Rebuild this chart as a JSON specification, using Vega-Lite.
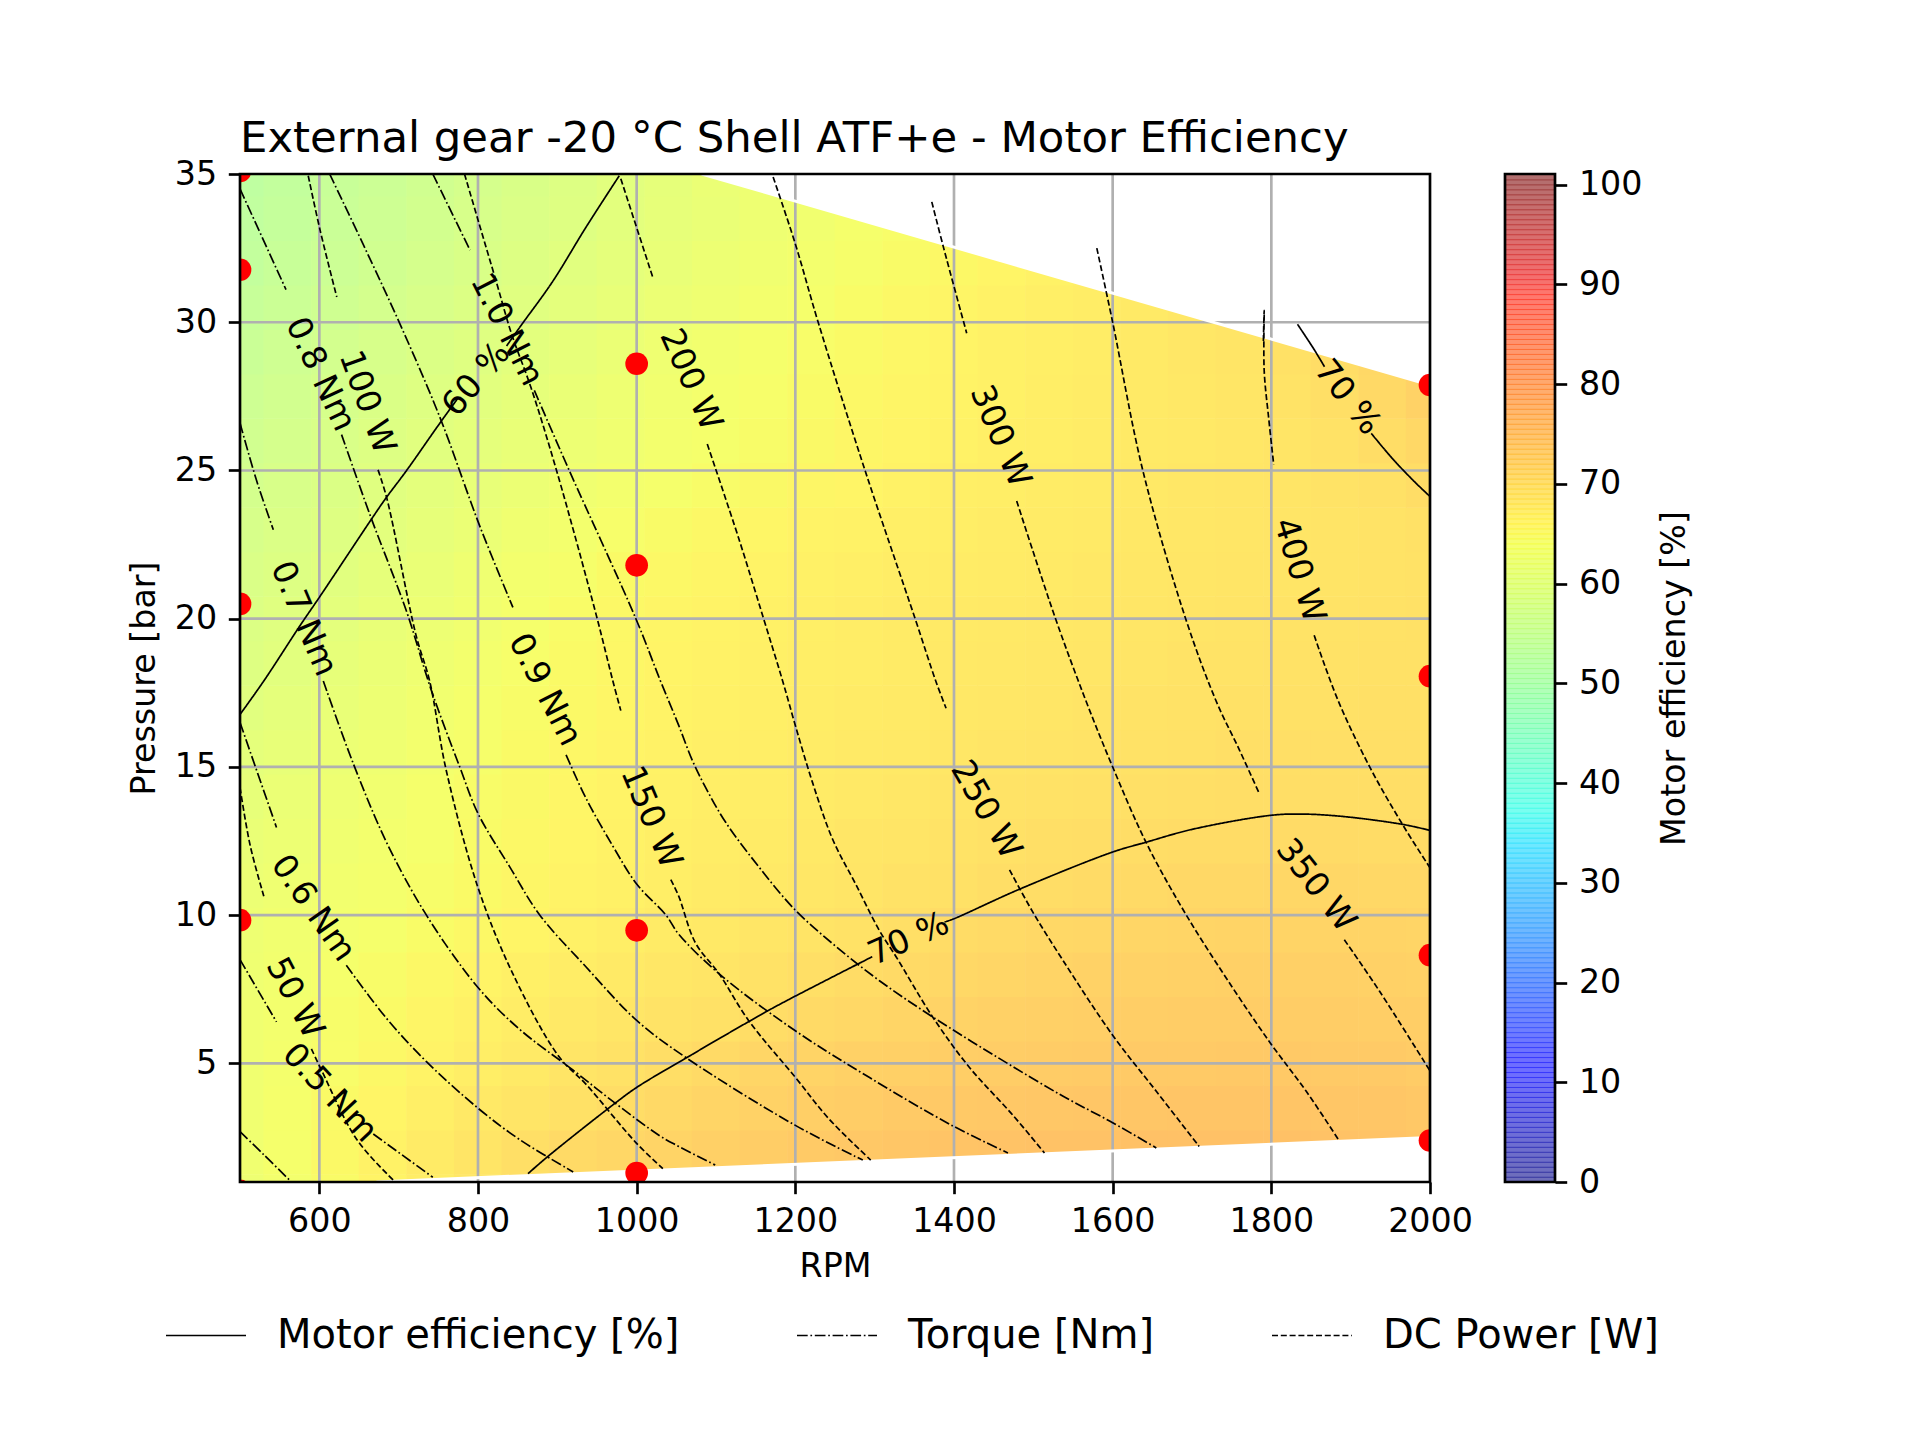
{"$schema":"https://vega.github.io/schema/vega-lite/v6.json","background":"white","padding":{"left":127,"top":116,"right":20,"bottom":20},"bounds":"flush","spacing":75,"config":{"font":"DejaVu Sans","view":{"stroke":null},"axis":{"grid":false,"domain":false,"labelFlush":false,"labelOverlap":false,"labelFontSize":33.3,"titleFontSize":33.3,"titleFontWeight":"normal","labelColor":"black","titleColor":"black","tickColor":"black","tickWidth":2.67,"tickSize":11.7,"labelPadding":11.7}},
"datasets":{
"heat":[
{"r":500,"p":0.5,"e":62.6},{"r":560,"p":0.5,"e":63.6},{"r":620,"p":0.5,"e":64.8},{"r":680,"p":0.5,"e":66},{"r":740,"p":0.5,"e":67.2},{"r":800,"p":0.5,"e":68.3},{"r":860,"p":0.5,"e":69.3},{"r":920,"p":0.5,"e":70.1},
{"r":500,"p":2,"e":63},{"r":560,"p":2,"e":64},{"r":620,"p":2,"e":65.2},{"r":680,"p":2,"e":66.4},{"r":740,"p":2,"e":67.6},{"r":800,"p":2,"e":68.7},{"r":860,"p":2,"e":69.7},{"r":920,"p":2,"e":70.5},{"r":980,"p":2,"e":71.1},{"r":1040,"p":2,"e":71.7},{"r":1100,"p":2,"e":72.3},{"r":1160,"p":2,"e":72.8},{"r":1220,"p":2,"e":73.3},{"r":1280,"p":2,"e":73.7},{"r":1340,"p":2,"e":74.1},{"r":1400,"p":2,"e":74.4},{"r":1460,"p":2,"e":74.6},{"r":1520,"p":2,"e":74.7},{"r":1580,"p":2,"e":74.8},{"r":1640,"p":2,"e":74.9},{"r":1700,"p":2,"e":75},{"r":1760,"p":2,"e":75},{"r":1820,"p":2,"e":74.9},{"r":1880,"p":2,"e":74.8},{"r":1940,"p":2,"e":74.6},{"r":2000,"p":2,"e":74.3},
{"r":500,"p":3.5,"e":63},{"r":560,"p":3.5,"e":63.9},{"r":620,"p":3.5,"e":64.9},{"r":680,"p":3.5,"e":65.9},{"r":740,"p":3.5,"e":66.9},{"r":800,"p":3.5,"e":67.9},{"r":860,"p":3.5,"e":68.6},{"r":920,"p":3.5,"e":69.4},{"r":980,"p":3.5,"e":70.1},{"r":1040,"p":3.5,"e":70.8},{"r":1100,"p":3.5,"e":71.5},{"r":1160,"p":3.5,"e":72},{"r":1220,"p":3.5,"e":72.5},{"r":1280,"p":3.5,"e":72.9},{"r":1340,"p":3.5,"e":73.3},{"r":1400,"p":3.5,"e":73.6},{"r":1460,"p":3.5,"e":73.8},{"r":1520,"p":3.5,"e":73.9},{"r":1580,"p":3.5,"e":74},{"r":1640,"p":3.5,"e":74.1},{"r":1700,"p":3.5,"e":74.2},{"r":1760,"p":3.5,"e":74.3},{"r":1820,"p":3.5,"e":74.2},{"r":1880,"p":3.5,"e":74.1},{"r":1940,"p":3.5,"e":74},{"r":2000,"p":3.5,"e":73.7},
{"r":500,"p":5,"e":63},{"r":560,"p":5,"e":63.8},{"r":620,"p":5,"e":64.5},{"r":680,"p":5,"e":65.4},{"r":740,"p":5,"e":66.2},{"r":800,"p":5,"e":67},{"r":860,"p":5,"e":67.8},{"r":920,"p":5,"e":68.6},{"r":980,"p":5,"e":69.2},{"r":1040,"p":5,"e":69.8},{"r":1100,"p":5,"e":70.6},{"r":1160,"p":5,"e":71.2},{"r":1220,"p":5,"e":71.7},{"r":1280,"p":5,"e":72.1},{"r":1340,"p":5,"e":72.4},{"r":1400,"p":5,"e":72.7},{"r":1460,"p":5,"e":72.9},{"r":1520,"p":5,"e":73.1},{"r":1580,"p":5,"e":73.2},{"r":1640,"p":5,"e":73.3},{"r":1700,"p":5,"e":73.4},{"r":1760,"p":5,"e":73.5},{"r":1820,"p":5,"e":73.5},{"r":1880,"p":5,"e":73.4},{"r":1940,"p":5,"e":73.3},{"r":2000,"p":5,"e":73.1},
{"r":500,"p":6.5,"e":63},{"r":560,"p":6.5,"e":63.6},{"r":620,"p":6.5,"e":64.4},{"r":680,"p":6.5,"e":65},{"r":740,"p":6.5,"e":65.8},{"r":800,"p":6.5,"e":66.6},{"r":860,"p":6.5,"e":67.3},{"r":920,"p":6.5,"e":67.9},{"r":980,"p":6.5,"e":68.4},{"r":1040,"p":6.5,"e":68.9},{"r":1100,"p":6.5,"e":69.4},{"r":1160,"p":6.5,"e":70.1},{"r":1220,"p":6.5,"e":70.6},{"r":1280,"p":6.5,"e":71},{"r":1340,"p":6.5,"e":71.4},{"r":1400,"p":6.5,"e":71.8},{"r":1460,"p":6.5,"e":72.1},{"r":1520,"p":6.5,"e":72.3},{"r":1580,"p":6.5,"e":72.5},{"r":1640,"p":6.5,"e":72.6},{"r":1700,"p":6.5,"e":72.8},{"r":1760,"p":6.5,"e":72.9},{"r":1820,"p":6.5,"e":72.9},{"r":1880,"p":6.5,"e":72.8},{"r":1940,"p":6.5,"e":72.7},{"r":2000,"p":6.5,"e":72.6},
{"r":500,"p":8,"e":62.8},{"r":560,"p":8,"e":63.4},{"r":620,"p":8,"e":64},{"r":680,"p":8,"e":64.6},{"r":740,"p":8,"e":65.3},{"r":800,"p":8,"e":66},{"r":860,"p":8,"e":66.7},{"r":920,"p":8,"e":67.3},{"r":980,"p":8,"e":67.8},{"r":1040,"p":8,"e":68.2},{"r":1100,"p":8,"e":68.7},{"r":1160,"p":8,"e":69.1},{"r":1220,"p":8,"e":69.6},{"r":1280,"p":8,"e":70.2},{"r":1340,"p":8,"e":70.6},{"r":1400,"p":8,"e":71},{"r":1460,"p":8,"e":71.3},{"r":1520,"p":8,"e":71.6},{"r":1580,"p":8,"e":71.9},{"r":1640,"p":8,"e":72},{"r":1700,"p":8,"e":72.2},{"r":1760,"p":8,"e":72.3},{"r":1820,"p":8,"e":72.3},{"r":1880,"p":8,"e":72.3},{"r":1940,"p":8,"e":72.2},{"r":2000,"p":8,"e":72},
{"r":500,"p":9.5,"e":62.5},{"r":560,"p":9.5,"e":63.1},{"r":620,"p":9.5,"e":63.6},{"r":680,"p":9.5,"e":64.1},{"r":740,"p":9.5,"e":64.7},{"r":800,"p":9.5,"e":65.3},{"r":860,"p":9.5,"e":65.9},{"r":920,"p":9.5,"e":66.5},{"r":980,"p":9.5,"e":67},{"r":1040,"p":9.5,"e":67.5},{"r":1100,"p":9.5,"e":68},{"r":1160,"p":9.5,"e":68.4},{"r":1220,"p":9.5,"e":68.8},{"r":1280,"p":9.5,"e":69.2},{"r":1340,"p":9.5,"e":69.7},{"r":1400,"p":9.5,"e":70.2},{"r":1460,"p":9.5,"e":70.5},{"r":1520,"p":9.5,"e":70.9},{"r":1580,"p":9.5,"e":71.1},{"r":1640,"p":9.5,"e":71.3},{"r":1700,"p":9.5,"e":71.5},{"r":1760,"p":9.5,"e":71.7},{"r":1820,"p":9.5,"e":71.7},{"r":1880,"p":9.5,"e":71.7},{"r":1940,"p":9.5,"e":71.6},{"r":2000,"p":9.5,"e":71.5},
{"r":500,"p":11,"e":62.2},{"r":560,"p":11,"e":62.8},{"r":620,"p":11,"e":63.3},{"r":680,"p":11,"e":63.8},{"r":740,"p":11,"e":64.4},{"r":800,"p":11,"e":65},{"r":860,"p":11,"e":65.6},{"r":920,"p":11,"e":66.1},{"r":980,"p":11,"e":66.6},{"r":1040,"p":11,"e":67},{"r":1100,"p":11,"e":67.5},{"r":1160,"p":11,"e":67.9},{"r":1220,"p":11,"e":68.3},{"r":1280,"p":11,"e":68.7},{"r":1340,"p":11,"e":69.1},{"r":1400,"p":11,"e":69.4},{"r":1460,"p":11,"e":69.8},{"r":1520,"p":11,"e":70.1},{"r":1580,"p":11,"e":70.4},{"r":1640,"p":11,"e":70.6},{"r":1700,"p":11,"e":70.9},{"r":1760,"p":11,"e":71},{"r":1820,"p":11,"e":71.1},{"r":1880,"p":11,"e":71.1},{"r":1940,"p":11,"e":71},{"r":2000,"p":11,"e":70.9},
{"r":500,"p":12.5,"e":61.7},{"r":560,"p":12.5,"e":62.3},{"r":620,"p":12.5,"e":62.9},{"r":680,"p":12.5,"e":63.5},{"r":740,"p":12.5,"e":64.1},{"r":800,"p":12.5,"e":64.8},{"r":860,"p":12.5,"e":65.4},{"r":920,"p":12.5,"e":65.9},{"r":980,"p":12.5,"e":66.4},{"r":1040,"p":12.5,"e":66.9},{"r":1100,"p":12.5,"e":67.3},{"r":1160,"p":12.5,"e":67.6},{"r":1220,"p":12.5,"e":68},{"r":1280,"p":12.5,"e":68.4},{"r":1340,"p":12.5,"e":68.7},{"r":1400,"p":12.5,"e":69},{"r":1460,"p":12.5,"e":69.3},{"r":1520,"p":12.5,"e":69.6},{"r":1580,"p":12.5,"e":69.8},{"r":1640,"p":12.5,"e":70},{"r":1700,"p":12.5,"e":70.2},{"r":1760,"p":12.5,"e":70.3},{"r":1820,"p":12.5,"e":70.4},{"r":1880,"p":12.5,"e":70.4},{"r":1940,"p":12.5,"e":70.3},{"r":2000,"p":12.5,"e":70.2},
{"r":500,"p":14,"e":61.2},{"r":560,"p":14,"e":61.9},{"r":620,"p":14,"e":62.6},{"r":680,"p":14,"e":63.2},{"r":740,"p":14,"e":63.9},{"r":800,"p":14,"e":64.6},{"r":860,"p":14,"e":65.1},{"r":920,"p":14,"e":65.7},{"r":980,"p":14,"e":66.2},{"r":1040,"p":14,"e":66.6},{"r":1100,"p":14,"e":67},{"r":1160,"p":14,"e":67.3},{"r":1220,"p":14,"e":67.6},{"r":1280,"p":14,"e":67.9},{"r":1340,"p":14,"e":68.3},{"r":1400,"p":14,"e":68.6},{"r":1460,"p":14,"e":68.9},{"r":1520,"p":14,"e":69.1},{"r":1580,"p":14,"e":69.3},{"r":1640,"p":14,"e":69.5},{"r":1700,"p":14,"e":69.7},{"r":1760,"p":14,"e":69.8},{"r":1820,"p":14,"e":69.9},{"r":1880,"p":14,"e":69.9},{"r":1940,"p":14,"e":69.9},{"r":2000,"p":14,"e":69.8},
{"r":500,"p":15.5,"e":60.7},{"r":560,"p":15.5,"e":61.4},{"r":620,"p":15.5,"e":62.1},{"r":680,"p":15.5,"e":62.8},{"r":740,"p":15.5,"e":63.5},{"r":800,"p":15.5,"e":64.2},{"r":860,"p":15.5,"e":64.9},{"r":920,"p":15.5,"e":65.5},{"r":980,"p":15.5,"e":66},{"r":1040,"p":15.5,"e":66.4},{"r":1100,"p":15.5,"e":66.8},{"r":1160,"p":15.5,"e":67.1},{"r":1220,"p":15.5,"e":67.4},{"r":1280,"p":15.5,"e":67.7},{"r":1340,"p":15.5,"e":68},{"r":1400,"p":15.5,"e":68.3},{"r":1460,"p":15.5,"e":68.6},{"r":1520,"p":15.5,"e":68.8},{"r":1580,"p":15.5,"e":69},{"r":1640,"p":15.5,"e":69.2},{"r":1700,"p":15.5,"e":69.4},{"r":1760,"p":15.5,"e":69.6},{"r":1820,"p":15.5,"e":69.7},{"r":1880,"p":15.5,"e":69.7},{"r":1940,"p":15.5,"e":69.7},{"r":2000,"p":15.5,"e":69.6},
{"r":500,"p":17,"e":60},{"r":560,"p":17,"e":60.8},{"r":620,"p":17,"e":61.6},{"r":680,"p":17,"e":62.4},{"r":740,"p":17,"e":63.2},{"r":800,"p":17,"e":63.9},{"r":860,"p":17,"e":64.6},{"r":920,"p":17,"e":65.2},{"r":980,"p":17,"e":65.7},{"r":1040,"p":17,"e":66.2},{"r":1100,"p":17,"e":66.6},{"r":1160,"p":17,"e":66.9},{"r":1220,"p":17,"e":67.2},{"r":1280,"p":17,"e":67.5},{"r":1340,"p":17,"e":67.8},{"r":1400,"p":17,"e":68.1},{"r":1460,"p":17,"e":68.3},{"r":1520,"p":17,"e":68.5},{"r":1580,"p":17,"e":68.8},{"r":1640,"p":17,"e":69},{"r":1700,"p":17,"e":69.2},{"r":1760,"p":17,"e":69.3},{"r":1820,"p":17,"e":69.4},{"r":1880,"p":17,"e":69.4},{"r":1940,"p":17,"e":69.5},{"r":2000,"p":17,"e":69.5},
{"r":500,"p":18.5,"e":59.4},{"r":560,"p":18.5,"e":60.2},{"r":620,"p":18.5,"e":61.1},{"r":680,"p":18.5,"e":62},{"r":740,"p":18.5,"e":62.8},{"r":800,"p":18.5,"e":63.5},{"r":860,"p":18.5,"e":64.3},{"r":920,"p":18.5,"e":65},{"r":980,"p":18.5,"e":65.5},{"r":1040,"p":18.5,"e":66},{"r":1100,"p":18.5,"e":66.4},{"r":1160,"p":18.5,"e":66.7},{"r":1220,"p":18.5,"e":67},{"r":1280,"p":18.5,"e":67.3},{"r":1340,"p":18.5,"e":67.6},{"r":1400,"p":18.5,"e":67.9},{"r":1460,"p":18.5,"e":68.1},{"r":1520,"p":18.5,"e":68.3},{"r":1580,"p":18.5,"e":68.5},{"r":1640,"p":18.5,"e":68.7},{"r":1700,"p":18.5,"e":68.9},{"r":1760,"p":18.5,"e":69},{"r":1820,"p":18.5,"e":69.1},{"r":1880,"p":18.5,"e":69.2},{"r":1940,"p":18.5,"e":69.3},{"r":2000,"p":18.5,"e":69.4},
{"r":500,"p":20,"e":58.9},{"r":560,"p":20,"e":59.7},{"r":620,"p":20,"e":60.6},{"r":680,"p":20,"e":61.5},{"r":740,"p":20,"e":62.4},{"r":800,"p":20,"e":63.2},{"r":860,"p":20,"e":64},{"r":920,"p":20,"e":64.7},{"r":980,"p":20,"e":65.3},{"r":1040,"p":20,"e":65.8},{"r":1100,"p":20,"e":66.2},{"r":1160,"p":20,"e":66.6},{"r":1220,"p":20,"e":66.9},{"r":1280,"p":20,"e":67.2},{"r":1340,"p":20,"e":67.5},{"r":1400,"p":20,"e":67.7},{"r":1460,"p":20,"e":67.9},{"r":1520,"p":20,"e":68.1},{"r":1580,"p":20,"e":68.3},{"r":1640,"p":20,"e":68.5},{"r":1700,"p":20,"e":68.7},{"r":1760,"p":20,"e":68.8},{"r":1820,"p":20,"e":68.9},{"r":1880,"p":20,"e":69},{"r":1940,"p":20,"e":69.2},{"r":2000,"p":20,"e":69.4},
{"r":500,"p":21.5,"e":58.4},{"r":560,"p":21.5,"e":59.2},{"r":620,"p":21.5,"e":60},{"r":680,"p":21.5,"e":60.9},{"r":740,"p":21.5,"e":61.8},{"r":800,"p":21.5,"e":62.7},{"r":860,"p":21.5,"e":63.5},{"r":920,"p":21.5,"e":64.2},{"r":980,"p":21.5,"e":64.9},{"r":1040,"p":21.5,"e":65.4},{"r":1100,"p":21.5,"e":65.8},{"r":1160,"p":21.5,"e":66.2},{"r":1220,"p":21.5,"e":66.5},{"r":1280,"p":21.5,"e":66.9},{"r":1340,"p":21.5,"e":67.2},{"r":1400,"p":21.5,"e":67.4},{"r":1460,"p":21.5,"e":67.6},{"r":1520,"p":21.5,"e":67.8},{"r":1580,"p":21.5,"e":68.1},{"r":1640,"p":21.5,"e":68.3},{"r":1700,"p":21.5,"e":68.5},{"r":1760,"p":21.5,"e":68.6},{"r":1820,"p":21.5,"e":68.7},{"r":1880,"p":21.5,"e":68.8},{"r":1940,"p":21.5,"e":69},{"r":2000,"p":21.5,"e":69.2},
{"r":500,"p":23,"e":57.8},{"r":560,"p":23,"e":58.6},{"r":620,"p":23,"e":59.4},{"r":680,"p":23,"e":60.3},{"r":740,"p":23,"e":61.2},{"r":800,"p":23,"e":62},{"r":860,"p":23,"e":62.9},{"r":920,"p":23,"e":63.6},{"r":980,"p":23,"e":64.3},{"r":1040,"p":23,"e":64.8},{"r":1100,"p":23,"e":65.3},{"r":1160,"p":23,"e":65.7},{"r":1220,"p":23,"e":66.1},{"r":1280,"p":23,"e":66.4},{"r":1340,"p":23,"e":66.8},{"r":1400,"p":23,"e":67.1},{"r":1460,"p":23,"e":67.4},{"r":1520,"p":23,"e":67.6},{"r":1580,"p":23,"e":67.8},{"r":1640,"p":23,"e":68.1},{"r":1700,"p":23,"e":68.3},{"r":1760,"p":23,"e":68.5},{"r":1820,"p":23,"e":68.6},{"r":1880,"p":23,"e":68.8},{"r":1940,"p":23,"e":69},{"r":2000,"p":23,"e":69.3},
{"r":500,"p":24.5,"e":57.2},{"r":560,"p":24.5,"e":58},{"r":620,"p":24.5,"e":58.8},{"r":680,"p":24.5,"e":59.7},{"r":740,"p":24.5,"e":60.6},{"r":800,"p":24.5,"e":61.4},{"r":860,"p":24.5,"e":62.2},{"r":920,"p":24.5,"e":62.9},{"r":980,"p":24.5,"e":63.6},{"r":1040,"p":24.5,"e":64.1},{"r":1100,"p":24.5,"e":64.6},{"r":1160,"p":24.5,"e":65.1},{"r":1220,"p":24.5,"e":65.6},{"r":1280,"p":24.5,"e":65.9},{"r":1340,"p":24.5,"e":66.4},{"r":1400,"p":24.5,"e":66.8},{"r":1460,"p":24.5,"e":67.1},{"r":1520,"p":24.5,"e":67.4},{"r":1580,"p":24.5,"e":67.6},{"r":1640,"p":24.5,"e":67.9},{"r":1700,"p":24.5,"e":68.2},{"r":1760,"p":24.5,"e":68.4},{"r":1820,"p":24.5,"e":68.7},{"r":1880,"p":24.5,"e":68.9},{"r":1940,"p":24.5,"e":69.3},{"r":2000,"p":24.5,"e":70},
{"r":500,"p":26,"e":56.6},{"r":560,"p":26,"e":57.4},{"r":620,"p":26,"e":58.2},{"r":680,"p":26,"e":59.1},{"r":740,"p":26,"e":60},{"r":800,"p":26,"e":60.8},{"r":860,"p":26,"e":61.6},{"r":920,"p":26,"e":62.3},{"r":980,"p":26,"e":63},{"r":1040,"p":26,"e":63.6},{"r":1100,"p":26,"e":64.1},{"r":1160,"p":26,"e":64.6},{"r":1220,"p":26,"e":65.1},{"r":1280,"p":26,"e":65.6},{"r":1340,"p":26,"e":66},{"r":1400,"p":26,"e":66.4},{"r":1460,"p":26,"e":66.8},{"r":1520,"p":26,"e":67.1},{"r":1580,"p":26,"e":67.4},{"r":1640,"p":26,"e":67.7},{"r":1700,"p":26,"e":68},{"r":1760,"p":26,"e":68.3},{"r":1820,"p":26,"e":68.7},{"r":1880,"p":26,"e":69.2},{"r":1940,"p":26,"e":70},{"r":2000,"p":26,"e":71},
{"r":500,"p":27.5,"e":56},{"r":560,"p":27.5,"e":56.8},{"r":620,"p":27.5,"e":57.6},{"r":680,"p":27.5,"e":58.5},{"r":740,"p":27.5,"e":59.3},{"r":800,"p":27.5,"e":60.1},{"r":860,"p":27.5,"e":61},{"r":920,"p":27.5,"e":61.8},{"r":980,"p":27.5,"e":62.5},{"r":1040,"p":27.5,"e":63.2},{"r":1100,"p":27.5,"e":63.8},{"r":1160,"p":27.5,"e":64.3},{"r":1220,"p":27.5,"e":64.8},{"r":1280,"p":27.5,"e":65.3},{"r":1340,"p":27.5,"e":65.8},{"r":1400,"p":27.5,"e":66.2},{"r":1460,"p":27.5,"e":66.6},{"r":1520,"p":27.5,"e":67},{"r":1580,"p":27.5,"e":67.4},{"r":1640,"p":27.5,"e":67.7},{"r":1700,"p":27.5,"e":68.1},{"r":1760,"p":27.5,"e":68.5},{"r":1820,"p":27.5,"e":69},{"r":1880,"p":27.5,"e":69.7},{"r":1940,"p":27.5,"e":70.7},{"r":2000,"p":27.5,"e":72},
{"r":500,"p":29,"e":55.3},{"r":560,"p":29,"e":56.2},{"r":620,"p":29,"e":57},{"r":680,"p":29,"e":57.8},{"r":740,"p":29,"e":58.7},{"r":800,"p":29,"e":59.5},{"r":860,"p":29,"e":60.4},{"r":920,"p":29,"e":61.2},{"r":980,"p":29,"e":62},{"r":1040,"p":29,"e":62.7},{"r":1100,"p":29,"e":63.3},{"r":1160,"p":29,"e":63.9},{"r":1220,"p":29,"e":64.5},{"r":1280,"p":29,"e":65},{"r":1340,"p":29,"e":65.5},{"r":1400,"p":29,"e":66},{"r":1460,"p":29,"e":66.5},{"r":1520,"p":29,"e":66.9},{"r":1580,"p":29,"e":67.3},{"r":1640,"p":29,"e":67.7},{"r":1700,"p":29,"e":68.2},{"r":1760,"p":29,"e":68.7},{"r":1820,"p":29,"e":69.3},{"r":1880,"p":29,"e":70},{"r":1940,"p":29,"e":71},
{"r":500,"p":30.5,"e":54.6},{"r":560,"p":30.5,"e":55.5},{"r":620,"p":30.5,"e":56.3},{"r":680,"p":30.5,"e":57.2},{"r":740,"p":30.5,"e":58},{"r":800,"p":30.5,"e":58.9},{"r":860,"p":30.5,"e":59.8},{"r":920,"p":30.5,"e":60.6},{"r":980,"p":30.5,"e":61.4},{"r":1040,"p":30.5,"e":62.1},{"r":1100,"p":30.5,"e":62.8},{"r":1160,"p":30.5,"e":63.5},{"r":1220,"p":30.5,"e":64.1},{"r":1280,"p":30.5,"e":64.7},{"r":1340,"p":30.5,"e":65.3},{"r":1400,"p":30.5,"e":65.8},{"r":1460,"p":30.5,"e":66.3},{"r":1520,"p":30.5,"e":66.8},{"r":1580,"p":30.5,"e":67.3},{"r":1640,"p":30.5,"e":67.8},{"r":1700,"p":30.5,"e":68.3},{"r":1760,"p":30.5,"e":68.9},{"r":1820,"p":30.5,"e":69.5},
{"r":500,"p":32,"e":53.9},{"r":560,"p":32,"e":54.8},{"r":620,"p":32,"e":55.6},{"r":680,"p":32,"e":56.5},{"r":740,"p":32,"e":57.4},{"r":800,"p":32,"e":58.3},{"r":860,"p":32,"e":59.1},{"r":920,"p":32,"e":60},{"r":980,"p":32,"e":60.8},{"r":1040,"p":32,"e":61.6},{"r":1100,"p":32,"e":62.3},{"r":1160,"p":32,"e":63},{"r":1220,"p":32,"e":63.6},{"r":1280,"p":32,"e":64.2},{"r":1340,"p":32,"e":64.8},{"r":1400,"p":32,"e":65.4},{"r":1460,"p":32,"e":65.9},{"r":1520,"p":32,"e":66.4},{"r":1580,"p":32,"e":66.9},
{"r":500,"p":33.5,"e":53.4},{"r":560,"p":33.5,"e":54.3},{"r":620,"p":33.5,"e":55.2},{"r":680,"p":33.5,"e":56},{"r":740,"p":33.5,"e":56.9},{"r":800,"p":33.5,"e":57.8},{"r":860,"p":33.5,"e":58.6},{"r":920,"p":33.5,"e":59.4},{"r":980,"p":33.5,"e":60.3},{"r":1040,"p":33.5,"e":61.1},{"r":1100,"p":33.5,"e":61.8},{"r":1160,"p":33.5,"e":62.5},{"r":1220,"p":33.5,"e":63.2},{"r":1280,"p":33.5,"e":63.9},{"r":1340,"p":33.5,"e":64.5},{"r":1400,"p":33.5,"e":65.1},
{"r":500,"p":35,"e":53},{"r":560,"p":35,"e":53.9},{"r":620,"p":35,"e":54.8},{"r":680,"p":35,"e":55.6},{"r":740,"p":35,"e":56.5},{"r":800,"p":35,"e":57.4},{"r":860,"p":35,"e":58.3},{"r":920,"p":35,"e":59.2},{"r":980,"p":35,"e":60.1},{"r":1040,"p":35,"e":61},{"r":1100,"p":35,"e":61.9},{"r":1160,"p":35,"e":62.6},{"r":1220,"p":35,"e":63.3}
],
"edge":[{"g":"top","r":1082,"p":35,"p2":35},{"g":"top","r":2000,"p":27.88,"p2":35},{"g":"bottom","r":672,"p":1,"p2":1},{"g":"bottom","r":2000,"p":2.5,"p2":1}],
"contours":[
{"k":"Motor efficiency [%]","s":"60a","r":500,"p":16.77},{"k":"Motor efficiency [%]","s":"60a","r":530,"p":17.9},{"k":"Motor efficiency [%]","s":"60a","r":576,"p":19.78},{"k":"Motor efficiency [%]","s":"60a","r":601,"p":20.76},{"k":"Motor efficiency [%]","s":"60a","r":666,"p":23.37},{"k":"Motor efficiency [%]","s":"60a","r":684,"p":24.07},{"k":"Motor efficiency [%]","s":"60a","r":710,"p":25},{"k":"Motor efficiency [%]","s":"60a","r":752,"p":26.6},{"k":"Motor efficiency [%]","s":"60a","r":775,"p":27.45},
{"k":"Motor efficiency [%]","s":"60b","r":836,"p":29.2},{"k":"Motor efficiency [%]","s":"60b","r":854.5,"p":29.9},{"k":"Motor efficiency [%]","s":"60b","r":894,"p":31.37},{"k":"Motor efficiency [%]","s":"60b","r":936,"p":33.2},{"k":"Motor efficiency [%]","s":"60b","r":978,"p":34.94},
{"k":"Motor efficiency [%]","s":"70a","r":863,"p":1.28},{"k":"Motor efficiency [%]","s":"70a","r":888,"p":1.86},{"k":"Motor efficiency [%]","s":"70a","r":970,"p":3.6},{"k":"Motor efficiency [%]","s":"70a","r":1000,"p":4.19},{"k":"Motor efficiency [%]","s":"70a","r":1057,"p":5.1},{"k":"Motor efficiency [%]","s":"70a","r":1163,"p":6.74},{"k":"Motor efficiency [%]","s":"70a","r":1200,"p":7.27},{"k":"Motor efficiency [%]","s":"70a","r":1297,"p":8.6},
{"k":"Motor efficiency [%]","s":"70b","r":1388,"p":9.77},{"k":"Motor efficiency [%]","s":"70b","r":1400,"p":9.88},{"k":"Motor efficiency [%]","s":"70b","r":1482,"p":10.87},{"k":"Motor efficiency [%]","s":"70b","r":1600,"p":12.13},{"k":"Motor efficiency [%]","s":"70b","r":1642,"p":12.46},{"k":"Motor efficiency [%]","s":"70b","r":1701,"p":12.9},{"k":"Motor efficiency [%]","s":"70b","r":1800,"p":13.37},{"k":"Motor efficiency [%]","s":"70b","r":1839,"p":13.41},{"k":"Motor efficiency [%]","s":"70b","r":1890,"p":13.33},{"k":"Motor efficiency [%]","s":"70b","r":1966,"p":13.06},{"k":"Motor efficiency [%]","s":"70b","r":2000,"p":12.86},
{"k":"Motor efficiency [%]","s":"70c","r":1833,"p":29.93},{"k":"Motor efficiency [%]","s":"70c","r":1853,"p":29.12},{"k":"Motor efficiency [%]","s":"70c","r":1867,"p":28.5},
{"k":"Motor efficiency [%]","s":"70d","r":1926,"p":26.25},{"k":"Motor efficiency [%]","s":"70d","r":1953,"p":25.39},{"k":"Motor efficiency [%]","s":"70d","r":1979,"p":24.66},{"k":"Motor efficiency [%]","s":"70d","r":2000,"p":24.12},
{"k":"Torque [Nm]","s":"0.4","r":500,"p":2.7},{"k":"Torque [Nm]","s":"0.4","r":530,"p":1.92},{"k":"Torque [Nm]","s":"0.4","r":563,"p":1.05},
{"k":"Torque [Nm]","s":"0.5a","r":500,"p":8.5},{"k":"Torque [Nm]","s":"0.5a","r":546,"p":6.4},
{"k":"Torque [Nm]","s":"0.5b","r":668,"p":2.62},{"k":"Torque [Nm]","s":"0.5b","r":743,"p":1.16},
{"k":"Torque [Nm]","s":"0.6a","r":500,"p":16.5},{"k":"Torque [Nm]","s":"0.6a","r":546,"p":12.96},
{"k":"Torque [Nm]","s":"0.6b","r":634,"p":8.31},{"k":"Torque [Nm]","s":"0.6b","r":685,"p":6.51},{"k":"Torque [Nm]","s":"0.6b","r":735,"p":5.06},{"k":"Torque [Nm]","s":"0.6b","r":800,"p":3.49},{"k":"Torque [Nm]","s":"0.6b","r":852,"p":2.44},{"k":"Torque [Nm]","s":"0.6b","r":920,"p":1.34},
{"k":"Torque [Nm]","s":"0.7a","r":500,"p":26.6},{"k":"Torque [Nm]","s":"0.7a","r":521,"p":24.65},{"k":"Torque [Nm]","s":"0.7a","r":542,"p":23},
{"k":"Torque [Nm]","s":"0.7b","r":605,"p":17.9},{"k":"Torque [Nm]","s":"0.7b","r":643,"p":15.1},{"k":"Torque [Nm]","s":"0.7b","r":685,"p":12.44},{"k":"Torque [Nm]","s":"0.7b","r":735,"p":10},{"k":"Torque [Nm]","s":"0.7b","r":800,"p":7.56},{"k":"Torque [Nm]","s":"0.7b","r":852,"p":6.16},{"k":"Torque [Nm]","s":"0.7b","r":920,"p":4.77},{"k":"Torque [Nm]","s":"0.7b","r":970,"p":3.72},{"k":"Torque [Nm]","s":"0.7b","r":1029,"p":2.56},{"k":"Torque [Nm]","s":"0.7b","r":1053,"p":2.2},{"k":"Torque [Nm]","s":"0.7b","r":1099,"p":1.57},
{"k":"Torque [Nm]","s":"0.8a","r":500,"p":34.5},{"k":"Torque [Nm]","s":"0.8a","r":558,"p":31.1},
{"k":"Torque [Nm]","s":"0.8b","r":628,"p":26.21},{"k":"Torque [Nm]","s":"0.8b","r":664,"p":23.49},{"k":"Torque [Nm]","s":"0.8b","r":710,"p":20.24},{"k":"Torque [Nm]","s":"0.8b","r":741,"p":17.6},{"k":"Torque [Nm]","s":"0.8b","r":777,"p":15},{"k":"Torque [Nm]","s":"0.8b","r":800,"p":13.43},{"k":"Torque [Nm]","s":"0.8b","r":840,"p":11.63},{"k":"Torque [Nm]","s":"0.8b","r":878,"p":10},{"k":"Torque [Nm]","s":"0.8b","r":936,"p":8.26},{"k":"Torque [Nm]","s":"0.8b","r":1000,"p":6.45},{"k":"Torque [Nm]","s":"0.8b","r":1062,"p":5.2},{"k":"Torque [Nm]","s":"0.8b","r":1200,"p":2.91},{"k":"Torque [Nm]","s":"0.8b","r":1285,"p":1.74},
{"k":"Torque [Nm]","s":"0.9a","r":613,"p":35},{"k":"Torque [Nm]","s":"0.9a","r":655,"p":32.64},{"k":"Torque [Nm]","s":"0.9a","r":701,"p":29.98},{"k":"Torque [Nm]","s":"0.9a","r":752,"p":26.79},{"k":"Torque [Nm]","s":"0.9a","r":802,"p":23.14},{"k":"Torque [Nm]","s":"0.9a","r":844,"p":20.38},
{"k":"Torque [Nm]","s":"0.9b","r":911,"p":15.41},{"k":"Torque [Nm]","s":"0.9b","r":936,"p":13.95},{"k":"Torque [Nm]","s":"0.9b","r":970,"p":12.33},{"k":"Torque [Nm]","s":"0.9b","r":1000,"p":11.05},{"k":"Torque [Nm]","s":"0.9b","r":1037,"p":10},{"k":"Torque [Nm]","s":"0.9b","r":1053,"p":9.36},{"k":"Torque [Nm]","s":"0.9b","r":1104,"p":8.02},{"k":"Torque [Nm]","s":"0.9b","r":1200,"p":6.1},{"k":"Torque [Nm]","s":"0.9b","r":1293,"p":4.53},{"k":"Torque [Nm]","s":"0.9b","r":1398,"p":2.9},{"k":"Torque [Nm]","s":"0.9b","r":1468,"p":1.98},
{"k":"Torque [Nm]","s":"1.0a","r":743,"p":35},{"k":"Torque [Nm]","s":"1.0a","r":790,"p":32.43},
{"k":"Torque [Nm]","s":"1.0b","r":871,"p":27.7},{"k":"Torque [Nm]","s":"1.0b","r":915,"p":25},{"k":"Torque [Nm]","s":"1.0b","r":999,"p":20},{"k":"Torque [Nm]","s":"1.0b","r":1030,"p":17.9},{"k":"Torque [Nm]","s":"1.0b","r":1053,"p":16.4},{"k":"Torque [Nm]","s":"1.0b","r":1070,"p":15.23},{"k":"Torque [Nm]","s":"1.0b","r":1087,"p":14.3},{"k":"Torque [Nm]","s":"1.0b","r":1112,"p":13.14},{"k":"Torque [Nm]","s":"1.0b","r":1154,"p":11.63},{"k":"Torque [Nm]","s":"1.0b","r":1200,"p":10.17},{"k":"Torque [Nm]","s":"1.0b","r":1251,"p":8.95},{"k":"Torque [Nm]","s":"1.0b","r":1306,"p":7.79},{"k":"Torque [Nm]","s":"1.0b","r":1373,"p":6.57},{"k":"Torque [Nm]","s":"1.0b","r":1457,"p":5.17},{"k":"Torque [Nm]","s":"1.0b","r":1537,"p":3.9},{"k":"Torque [Nm]","s":"1.0b","r":1600,"p":3},{"k":"Torque [Nm]","s":"1.0b","r":1655,"p":2.15},
{"k":"DC Power [W]","s":"50a","r":500,"p":14.3},{"k":"DC Power [W]","s":"50a","r":513,"p":12.33},{"k":"DC Power [W]","s":"50a","r":530,"p":10.64},
{"k":"DC Power [W]","s":"50b","r":590,"p":5.49},{"k":"DC Power [W]","s":"50b","r":604,"p":4.7},{"k":"DC Power [W]","s":"50b","r":647,"p":2.44},{"k":"DC Power [W]","s":"50b","r":693,"p":1.07},
{"k":"DC Power [W]","s":"100a","r":586,"p":34.94},{"k":"DC Power [W]","s":"100a","r":601,"p":33.1},{"k":"DC Power [W]","s":"100a","r":622,"p":30.85},
{"k":"DC Power [W]","s":"100b","r":674,"p":25.02},{"k":"DC Power [W]","s":"100b","r":685,"p":24.07},{"k":"DC Power [W]","s":"100b","r":722,"p":19.43},{"k":"DC Power [W]","s":"100b","r":739,"p":17.9},{"k":"DC Power [W]","s":"100b","r":760,"p":14.88},{"k":"DC Power [W]","s":"100b","r":800,"p":10.93},{"k":"DC Power [W]","s":"100b","r":844,"p":8.02},{"k":"DC Power [W]","s":"100b","r":902,"p":5.23},{"k":"DC Power [W]","s":"100b","r":936,"p":4.3},{"k":"DC Power [W]","s":"100b","r":999,"p":2.33},{"k":"DC Power [W]","s":"100b","r":1033,"p":1.45},
{"k":"DC Power [W]","s":"150a","r":783,"p":35},{"k":"DC Power [W]","s":"150a","r":800,"p":33.45},{"k":"DC Power [W]","s":"150a","r":823,"p":31.37},{"k":"DC Power [W]","s":"150a","r":842,"p":29.63},{"k":"DC Power [W]","s":"150a","r":867,"p":27.78},{"k":"DC Power [W]","s":"150a","r":899,"p":25},{"k":"DC Power [W]","s":"150a","r":949,"p":20.13},{"k":"DC Power [W]","s":"150a","r":970,"p":17.9},{"k":"DC Power [W]","s":"150a","r":980,"p":16.9},
{"k":"DC Power [W]","s":"150b","r":1043,"p":11.2},{"k":"DC Power [W]","s":"150b","r":1053,"p":10.64},{"k":"DC Power [W]","s":"150b","r":1074,"p":9.07},{"k":"DC Power [W]","s":"150b","r":1104,"p":8.02},{"k":"DC Power [W]","s":"150b","r":1141,"p":6.45},{"k":"DC Power [W]","s":"150b","r":1200,"p":4.53},{"k":"DC Power [W]","s":"150b","r":1242,"p":3.14},{"k":"DC Power [W]","s":"150b","r":1295,"p":1.74},
{"k":"DC Power [W]","s":"200a","r":980,"p":34.84},{"k":"DC Power [W]","s":"200a","r":1020,"p":31.54},
{"k":"DC Power [W]","s":"200b","r":1089,"p":25.89},{"k":"DC Power [W]","s":"200b","r":1129,"p":22.68},{"k":"DC Power [W]","s":"200b","r":1160,"p":20},{"k":"DC Power [W]","s":"200b","r":1184,"p":17.9},{"k":"DC Power [W]","s":"200b","r":1200,"p":16.4},{"k":"DC Power [W]","s":"200b","r":1221,"p":14.53},{"k":"DC Power [W]","s":"200b","r":1247,"p":12.56},{"k":"DC Power [W]","s":"200b","r":1276,"p":11.05},{"k":"DC Power [W]","s":"200b","r":1306,"p":9.48},{"k":"DC Power [W]","s":"200b","r":1327,"p":8.6},{"k":"DC Power [W]","s":"200b","r":1373,"p":6.57},{"k":"DC Power [W]","s":"200b","r":1419,"p":4.88},{"k":"DC Power [W]","s":"200b","r":1474,"p":3.26},{"k":"DC Power [W]","s":"200b","r":1514,"p":1.98},
{"k":"DC Power [W]","s":"250a","r":1172,"p":34.9},{"k":"DC Power [W]","s":"250a","r":1200,"p":32.64},{"k":"DC Power [W]","s":"250a","r":1229,"p":29.98},{"k":"DC Power [W]","s":"250a","r":1288,"p":24.99},{"k":"DC Power [W]","s":"250a","r":1351,"p":20},{"k":"DC Power [W]","s":"250a","r":1377,"p":17.9},{"k":"DC Power [W]","s":"250a","r":1390,"p":16.98},
{"k":"DC Power [W]","s":"250b","r":1470,"p":11.53},{"k":"DC Power [W]","s":"250b","r":1499,"p":10.12},{"k":"DC Power [W]","s":"250b","r":1537,"p":8.49},{"k":"DC Power [W]","s":"250b","r":1600,"p":5.95},{"k":"DC Power [W]","s":"250b","r":1655,"p":4.06},{"k":"DC Power [W]","s":"250b","r":1709,"p":2.2},
{"k":"DC Power [W]","s":"300a","r":1372,"p":34.06},{"k":"DC Power [W]","s":"300a","r":1387,"p":32.5},{"k":"DC Power [W]","s":"300a","r":1416,"p":29.63},
{"k":"DC Power [W]","s":"300b","r":1479,"p":23.97},{"k":"DC Power [W]","s":"300b","r":1528,"p":20},{"k":"DC Power [W]","s":"300b","r":1566,"p":17.25},{"k":"DC Power [W]","s":"300b","r":1600,"p":15},{"k":"DC Power [W]","s":"300b","r":1642,"p":12.46},{"k":"DC Power [W]","s":"300b","r":1692,"p":10.04},{"k":"DC Power [W]","s":"300b","r":1751,"p":7.56},{"k":"DC Power [W]","s":"300b","r":1800,"p":5.64},{"k":"DC Power [W]","s":"300b","r":1844,"p":4.06},{"k":"DC Power [W]","s":"300b","r":1886,"p":2.37},
{"k":"DC Power [W]","s":"350a","r":1580,"p":32.5},{"k":"DC Power [W]","s":"350a","r":1600,"p":30},{"k":"DC Power [W]","s":"350a","r":1638,"p":25},{"k":"DC Power [W]","s":"350a","r":1692,"p":20},{"k":"DC Power [W]","s":"350a","r":1730,"p":17.25},{"k":"DC Power [W]","s":"350a","r":1760,"p":15.56},{"k":"DC Power [W]","s":"350a","r":1784,"p":14.15},
{"k":"DC Power [W]","s":"350b","r":1892,"p":9.17},{"k":"DC Power [W]","s":"350b","r":1936,"p":7.45},{"k":"DC Power [W]","s":"350b","r":2000,"p":4.75},
{"k":"DC Power [W]","s":"400a","r":1791,"p":30.4},{"k":"DC Power [W]","s":"400a","r":1790,"p":29.37},{"k":"DC Power [W]","s":"400a","r":1791,"p":28.36},{"k":"DC Power [W]","s":"400a","r":1797,"p":26.68},{"k":"DC Power [W]","s":"400a","r":1803,"p":25.2},
{"k":"DC Power [W]","s":"400b","r":1854,"p":19.44},{"k":"DC Power [W]","s":"400b","r":1884,"p":17.25},{"k":"DC Power [W]","s":"400b","r":1924,"p":15},{"k":"DC Power [W]","s":"400b","r":1966,"p":13.03},{"k":"DC Power [W]","s":"400b","r":2000,"p":11.6}
],
"tests":[{"r":500,"p":35.1},{"r":500,"p":31.77},{"r":500,"p":20.5},{"r":500,"p":9.83},{"r":500,"p":0.7},{"r":1000,"p":28.6},{"r":1000,"p":21.8},{"r":1000,"p":9.49},{"r":1000,"p":1.3},{"r":2000,"p":27.88},{"r":2000,"p":18.06},{"r":2000,"p":8.65},{"r":2000,"p":2.4}]
},
"hconcat":[
{"width":1190,"height":1008,
"title":{"text":"External gear -20 °C Shell ATF+e - Motor Efficiency","anchor":"start","frame":"group","fontSize":43.4,"fontWeight":"normal","color":"black","offset":-4},
"encoding":{
"x":{"field":"r","type":"quantitative","title":"RPM","scale":{"domain":[500,2000],"nice":false},"axis":{"values":[600,800,1000,1200,1400,1600,1800,2000],"format":"d","titlePadding":13}},
"y":{"field":"p","type":"quantitative","title":"Pressure [bar]","scale":{"domain":[1,35],"nice":false},"axis":{"values":[5,10,15,20,25,30,35],"format":"d","titlePadding":13}}},
"layer":[
{"data":{"name":"heat"},"mark":{"type":"rect","width":48.2,"height":45,"clip":true},"encoding":{"color":{"field":"e","type":"quantitative","legend":null,"scale":{"interpolate":"rgb","domain":[0,11,12.5,34,35,37.5,64,65,66,89,91,100],"range":["#6666b3","#6666ff","#6666ff","#66e9ff","#66f0fa","#73ffee","#f5ff6b","#fafa66","#fff466","#ff7166","#f16666","#b36666"]}}}},
{"data":{"name":"edge"},"mark":{"type":"area","color":"white","clip":true},"encoding":{"y2":{"field":"p2"},"detail":{"field":"g"}}},
{"data":{"values":[{"r":600},{"r":800},{"r":1000},{"r":1200},{"r":1400},{"r":1600},{"r":1800}]},"mark":{"type":"rule","color":"#b0b0b0","strokeWidth":2.67},"encoding":{"y":null}},
{"data":{"values":[{"p":5},{"p":10},{"p":15},{"p":20},{"p":25},{"p":30}]},"mark":{"type":"rule","color":"#b0b0b0","strokeWidth":2.67},"encoding":{"x":null}},
{"data":{"name":"edge"},"mark":{"type":"line","color":"white","strokeWidth":3,"clip":true},"encoding":{"detail":{"field":"g"}}},
{"data":{"name":"contours"},"mark":{"type":"line","interpolate":"catmull-rom","strokeWidth":1.7,"color":"black","clip":true},"encoding":{"order":null,"detail":{"field":"s"},"strokeDash":{"field":"k","type":"nominal","scale":{"domain":["Motor efficiency [%]","Torque [Nm]","DC Power [W]"],"range":[[1,0],[10.7,2.7,1.7,2.7],[6,2.8]]},"legend":{"title":null,"orient":"none","legendX":-75,"legendY":1120.5,"direction":"horizontal","columns":3,"columnPadding":113,"labelFontSize":40,"labelLimit":600,"labelColor":"black","labelOffset":30,"symbolType":"stroke","symbolSize":6400,"symbolStrokeWidth":1.7,"symbolStrokeColor":"black"}}}},
{"data":{"name":"tests"},"mark":{"type":"circle","color":"#ff0000","opacity":1,"size":515,"clip":true}},
{"data":{"values":[{"r":601,"p":28.24,"t":"0.8 Nm"}]},"mark":{"type":"text","angle":65,"fontSize":33.3,"color":"black"},"encoding":{"text":{"field":"t"}}},
{"data":{"values":[{"r":660,"p":27.3,"t":"100 W"}]},"mark":{"type":"text","angle":70,"fontSize":33.3,"color":"black"},"encoding":{"text":{"field":"t"}}},
{"data":{"values":[{"r":836,"p":29.75,"t":"1.0 Nm"}]},"mark":{"type":"text","angle":63,"fontSize":33.3,"color":"black"},"encoding":{"text":{"field":"t"}}},
{"data":{"values":[{"r":798,"p":28.07,"t":"60 %"}]},"mark":{"type":"text","angle":-50,"fontSize":33.3,"color":"black"},"encoding":{"text":{"field":"t"}}},
{"data":{"values":[{"r":580,"p":20,"t":"0.7 Nm"}]},"mark":{"type":"text","angle":67,"fontSize":33.3,"color":"black"},"encoding":{"text":{"field":"t"}}},
{"data":{"values":[{"r":884,"p":17.6,"t":"0.9 Nm"}]},"mark":{"type":"text","angle":63,"fontSize":33.3,"color":"black"},"encoding":{"text":{"field":"t"}}},
{"data":{"values":[{"r":1068,"p":28.06,"t":"200 W"}]},"mark":{"type":"text","angle":66,"fontSize":33.3,"color":"black"},"encoding":{"text":{"field":"t"}}},
{"data":{"values":[{"r":1458,"p":26.15,"t":"300 W"}]},"mark":{"type":"text","angle":67,"fontSize":33.3,"color":"black"},"encoding":{"text":{"field":"t"}}},
{"data":{"values":[{"r":1835,"p":21.63,"t":"400 W"}]},"mark":{"type":"text","angle":73,"fontSize":33.3,"color":"black"},"encoding":{"text":{"field":"t"}}},
{"data":{"values":[{"r":1896,"p":27.46,"t":"70 %"}]},"mark":{"type":"text","angle":52,"fontSize":33.3,"color":"black"},"encoding":{"text":{"field":"t"}}},
{"data":{"values":[{"r":1018,"p":13.3,"t":"150 W"}]},"mark":{"type":"text","angle":67,"fontSize":33.3,"color":"black"},"encoding":{"text":{"field":"t"}}},
{"data":{"values":[{"r":1440,"p":13.55,"t":"250 W"}]},"mark":{"type":"text","angle":60,"fontSize":33.3,"color":"black"},"encoding":{"text":{"field":"t"}}},
{"data":{"values":[{"r":1856,"p":11,"t":"350 W"}]},"mark":{"type":"text","angle":52,"fontSize":33.3,"color":"black"},"encoding":{"text":{"field":"t"}}},
{"data":{"values":[{"r":1343,"p":9.19,"t":"70 %"}]},"mark":{"type":"text","angle":-24,"fontSize":33.3,"color":"black"},"encoding":{"text":{"field":"t"}}},
{"data":{"values":[{"r":592,"p":10.23,"t":"0.6 Nm"}]},"mark":{"type":"text","angle":55,"fontSize":33.3,"color":"black"},"encoding":{"text":{"field":"t"}}},
{"data":{"values":[{"r":569,"p":7.2,"t":"50 W"}]},"mark":{"type":"text","angle":62,"fontSize":33.3,"color":"black"},"encoding":{"text":{"field":"t"}}},
{"data":{"values":[{"r":613,"p":4,"t":"0.5 Nm"}]},"mark":{"type":"text","angle":47,"fontSize":33.3,"color":"black"},"encoding":{"text":{"field":"t"}}},
{"data":{"values":[{"r":500,"r2":2000,"p":1,"p2":35}]},"mark":{"type":"rect","fill":null,"stroke":"black","strokeWidth":2.67},"encoding":{"x2":{"field":"r2"},"y2":{"field":"p2"}}}
]},
{"width":50,"height":1008,
"data":{"values":[{"v":0.25},{"v":0.75},{"v":1.25},{"v":1.75},{"v":2.25},{"v":2.75},{"v":3.25},{"v":3.75},{"v":4.25},{"v":4.75},{"v":5.25},{"v":5.75},{"v":6.25},{"v":6.75},{"v":7.25},{"v":7.75},{"v":8.25},{"v":8.75},{"v":9.25},{"v":9.75},{"v":10.25},{"v":10.75},{"v":11.25},{"v":11.75},{"v":12.25},{"v":12.75},{"v":13.25},{"v":13.75},{"v":14.25},{"v":14.75},{"v":15.25},{"v":15.75},{"v":16.25},{"v":16.75},{"v":17.25},{"v":17.75},{"v":18.25},{"v":18.75},{"v":19.25},{"v":19.75},{"v":20.25},{"v":20.75},{"v":21.25},{"v":21.75},{"v":22.25},{"v":22.75},{"v":23.25},{"v":23.75},{"v":24.25},{"v":24.75},{"v":25.25},{"v":25.75},{"v":26.25},{"v":26.75},{"v":27.25},{"v":27.75},{"v":28.25},{"v":28.75},{"v":29.25},{"v":29.75},{"v":30.25},{"v":30.75},{"v":31.25},{"v":31.75},{"v":32.25},{"v":32.75},{"v":33.25},{"v":33.75},{"v":34.25},{"v":34.75},{"v":35.25},{"v":35.75},{"v":36.25},{"v":36.75},{"v":37.25},{"v":37.75},{"v":38.25},{"v":38.75},{"v":39.25},{"v":39.75},{"v":40.25},{"v":40.75},{"v":41.25},{"v":41.75},{"v":42.25},{"v":42.75},{"v":43.25},{"v":43.75},{"v":44.25},{"v":44.75},{"v":45.25},{"v":45.75},{"v":46.25},{"v":46.75},{"v":47.25},{"v":47.75},{"v":48.25},{"v":48.75},{"v":49.25},{"v":49.75},{"v":50.25},{"v":50.75},{"v":51.25},{"v":51.75},{"v":52.25},{"v":52.75},{"v":53.25},{"v":53.75},{"v":54.25},{"v":54.75},{"v":55.25},{"v":55.75},{"v":56.25},{"v":56.75},{"v":57.25},{"v":57.75},{"v":58.25},{"v":58.75},{"v":59.25},{"v":59.75},{"v":60.25},{"v":60.75},{"v":61.25},{"v":61.75},{"v":62.25},{"v":62.75},{"v":63.25},{"v":63.75},{"v":64.25},{"v":64.75},{"v":65.25},{"v":65.75},{"v":66.25},{"v":66.75},{"v":67.25},{"v":67.75},{"v":68.25},{"v":68.75},{"v":69.25},{"v":69.75},{"v":70.25},{"v":70.75},{"v":71.25},{"v":71.75},{"v":72.25},{"v":72.75},{"v":73.25},{"v":73.75},{"v":74.25},{"v":74.75},{"v":75.25},{"v":75.75},{"v":76.25},{"v":76.75},{"v":77.25},{"v":77.75},{"v":78.25},{"v":78.75},{"v":79.25},{"v":79.75},{"v":80.25},{"v":80.75},{"v":81.25},{"v":81.75},{"v":82.25},{"v":82.75},{"v":83.25},{"v":83.75},{"v":84.25},{"v":84.75},{"v":85.25},{"v":85.75},{"v":86.25},{"v":86.75},{"v":87.25},{"v":87.75},{"v":88.25},{"v":88.75},{"v":89.25},{"v":89.75},{"v":90.25},{"v":90.75},{"v":91.25},{"v":91.75},{"v":92.25},{"v":92.75},{"v":93.25},{"v":93.75},{"v":94.25},{"v":94.75},{"v":95.25},{"v":95.75},{"v":96.25},{"v":96.75},{"v":97.25},{"v":97.75},{"v":98.25},{"v":98.75},{"v":99.25},{"v":99.75},{"v":100.25},{"v":100.75}]},
"encoding":{"y":{"field":"v","type":"quantitative","title":"Motor efficiency [%]","scale":{"domain":[0,101.07],"nice":false},"axis":{"orient":"right","values":[0,10,20,30,40,50,60,70,80,90,100],"titleAngle":-90,"titlePadding":50}}},
"layer":[
{"mark":{"type":"rect","height":5.5,"opacity":1,"fillOpacity":0.95,"strokeOpacity":0.4,"strokeWidth":1},"encoding":{
"color":{"field":"v","type":"quantitative","legend":null,"scale":{"interpolate":"rgb","domain":[0,11,12.5,34,35,37.5,64,65,66,89,91,100],"range":["#000080","#0000ff","#0000ff","#00dbff","#00e6f7","#15ffe2","#eeff08","#f7f600","#ffec00","#ff1300","#e80000","#800000"]}},
"stroke":{"field":"v","type":"quantitative","legend":null,"scale":{"interpolate":"rgb","domain":[0,11,12.5,34,35,37.5,64,65,66,89,91,100],"range":["#000080","#0000ff","#0000ff","#00dbff","#00e6f7","#15ffe2","#eeff08","#f7f600","#ffec00","#ff1300","#e80000","#800000"]}}}},
{"data":{"values":[{"v":0,"v2":101.07}]},"mark":{"type":"rect","fill":null,"stroke":"black","strokeWidth":2.67},"encoding":{"y2":{"field":"v2"}}}
]}
]}
